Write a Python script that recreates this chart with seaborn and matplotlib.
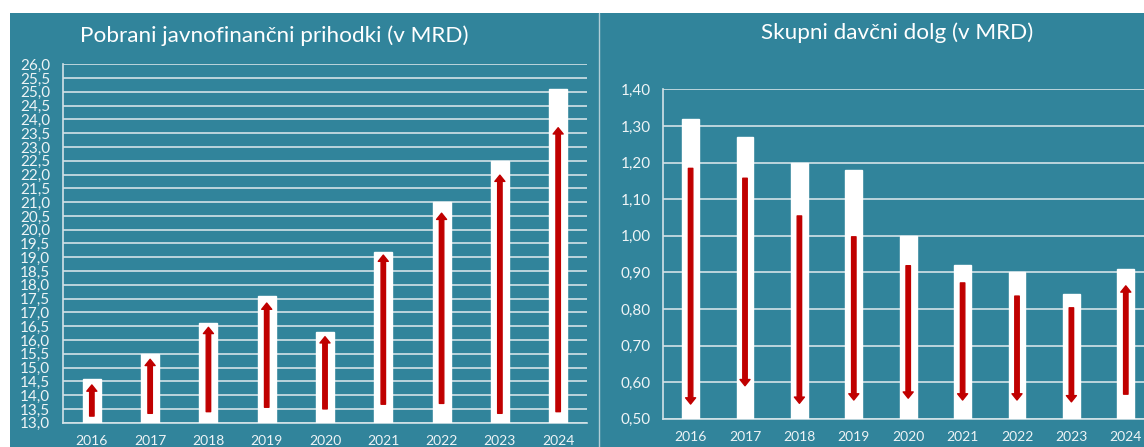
import pandas as pd
import matplotlib
matplotlib.use("Agg")
import matplotlib.pyplot as plt
import seaborn as sns
from matplotlib.patches import Rectangle
from matplotlib.lines import Line2D
from matplotlib.ticker import FuncFormatter

# Data
years = ['2016', '2017', '2018', '2019', '2020', '2021', '2022', '2023', '2024']

revenue = [14.6, 15.5, 16.6, 17.6, 16.3, 19.2, 21.0, 22.5, 25.1]
revenue_arrow_from = [13.24, 13.34, 13.40, 13.56, 13.50, 13.67, 13.70, 13.34, 13.40]
revenue_arrow_to = [14.37, 15.30, 16.46, 17.34, 16.12, 19.08, 20.60, 21.98, 23.70]

debt = [1.32, 1.27, 1.20, 1.18, 1.00, 0.92, 0.90, 0.84, 0.91]
debt_arrow_from = [1.184, 1.157, 1.054, 0.997, 0.918, 0.871, 0.835, 0.803, 0.567]
debt_arrow_to = [0.540, 0.590, 0.542, 0.551, 0.556, 0.551, 0.551, 0.546, 0.863]

TEAL = '#31849b'
GRID = '#d2e2e7'
TXT = '#eef4f6'
RED = '#c00000'

sns.set_theme(style='white')
plt.rcParams['font.family'] = ['Lato', 'DejaVu Sans']

fig = plt.figure(figsize=(11.44, 4.47), dpi=100)
fig.patch.set_facecolor('white')
# teal panel background
fig.patches.append(Rectangle((10 / 1144, 0), 1 - 10 / 1144, 1 - 13 / 447,
                             transform=fig.transFigure, facecolor=TEAL,
                             edgecolor='none', zorder=-10))
fig.lines.append(Line2D([599 / 1144, 599 / 1144], [0, 1 - 13 / 447],
                        transform=fig.transFigure, color=GRID, lw=1.0, alpha=0.8))


def draw_panel(ax, values, a_from, a_to, ylim, step, fmt, ysize):
    df = pd.DataFrame({'year': years, 'value': values})
    sns.barplot(data=df, x='year', y='value', color='white', width=0.31,
                saturation=1, ax=ax, zorder=3)
    for i, (s, e) in enumerate(zip(a_from, a_to)):
        ax.annotate('', xy=(i, e), xytext=(i, s),
                    arrowprops=dict(arrowstyle='simple,head_length=0.45,head_width=0.72,tail_width=0.32',
                                    mutation_scale=10, color=RED, shrinkA=0, shrinkB=0),
                    zorder=4)
    ax.set_facecolor(TEAL)
    ax.set_ylim(*ylim)
    n = int(round((ylim[1] - ylim[0]) / step))
    ax.set_yticks([ylim[0] + k * step for k in range(n + 1)])
    ax.yaxis.set_major_formatter(FuncFormatter(lambda v, p: fmt.format(v).replace('.', ',')))
    ax.grid(axis='y', color=GRID, lw=1.2, zorder=0)
    ax.set_axisbelow(True)
    for side in ['top', 'right']:
        ax.spines[side].set_visible(False)
    for side in ['left', 'bottom']:
        ax.spines[side].set_color(GRID)
        ax.spines[side].set_linewidth(1.2)
    ax.tick_params(length=0, colors=TXT)
    ax.tick_params(axis='y', pad=9, labelsize=ysize)
    ax.tick_params(axis='x', pad=9, labelsize=10)
    ax.set_xlabel('')
    ax.set_ylabel('')
    return ax


ax1 = fig.add_axes([62.7 / 1144, 24.3 / 447, 524.6 / 1144, 358.4 / 447])
draw_panel(ax1, revenue, revenue_arrow_from, revenue_arrow_to, (13.0, 26.0), 0.5,
           '{:.1f}', 11)
ax2 = fig.add_axes([663.4 / 1144, 28.3 / 447, 489.6 / 1144, 329.4 / 447])
draw_panel(ax2, debt, debt_arrow_from, debt_arrow_to, (0.5, 1.4), 0.1,
           '{:.2f}', 11)

fig.text(274 / 1144, 1 - 36 / 447, 'Pobrani javnofinančni prihodki (v MRD)',
         ha='center', va='center', color='white', fontsize=16.2)
fig.text(897 / 1144, 1 - 33 / 447, 'Skupni davčni dolg (v MRD)',
         ha='center', va='center', color='white', fontsize=16.2)

fig.savefig('out.png', dpi=100, facecolor=fig.get_facecolor())
